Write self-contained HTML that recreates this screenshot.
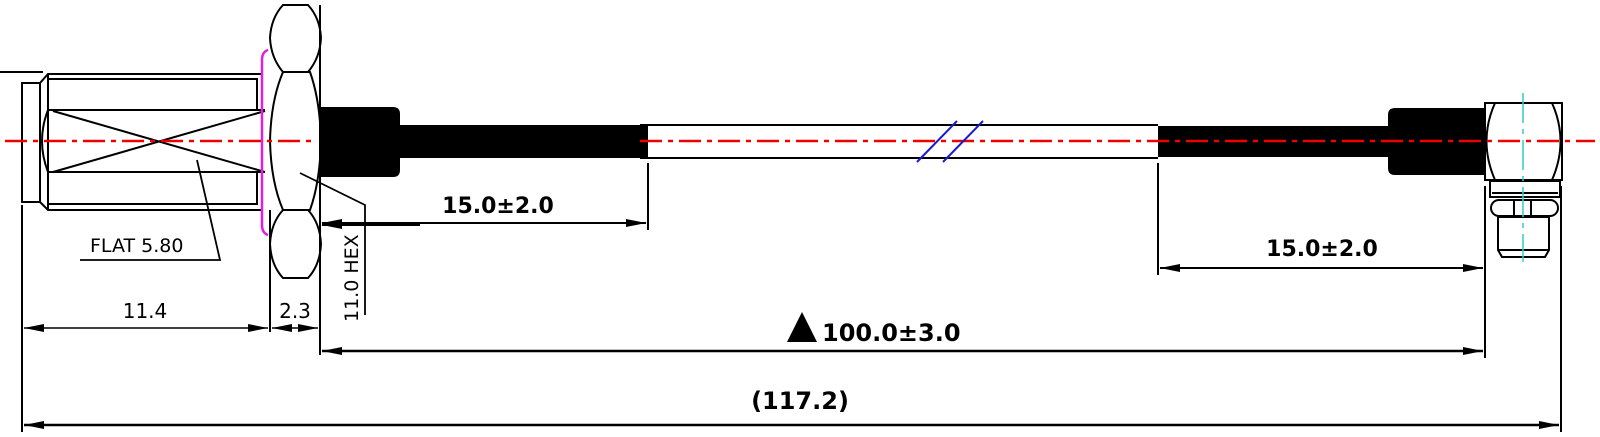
<!DOCTYPE html>
<html><head><meta charset="utf-8"><style>
html,body{margin:0;padding:0;background:#fff;width:1600px;height:437px;overflow:hidden}
svg{display:block}
text{font-family:"DejaVu Sans","Liberation Sans",sans-serif;fill:#000}
</style></head><body>
<svg width="1600" height="437" viewBox="0 0 1600 437" xmlns="http://www.w3.org/2000/svg">
<defs>
<marker id="a" viewBox="0 0 20 8" refX="20" refY="4" markerWidth="20" markerHeight="8" markerUnits="userSpaceOnUse" orient="auto-start-reverse"><path d="M0,0 L20,4 L0,8 z" fill="#000"/></marker>
</defs>
<g fill="none" stroke="#000" stroke-width="2">
<!-- left connector -->
<line x1="0" y1="72" x2="43" y2="72"/>
<rect x="22" y="83" width="18" height="119"/>
<path d="M40,83 L48,74 L262,74 M40,202 L48,210 L262,210"/>
<line x1="48" y1="74" x2="48" y2="210"/>
<line x1="48" y1="79" x2="258" y2="79"/>
<line x1="48" y1="204" x2="258" y2="204"/>
<line x1="257" y1="79" x2="257" y2="110"/>
<line x1="257" y1="173" x2="257" y2="204"/>
<line x1="48" y1="110" x2="265" y2="110"/>
<line x1="48" y1="172" x2="265" y2="172"/>
<path d="M48,110 Q36,141 48,172"/>
<line x1="53" y1="111" x2="265" y2="172"/>
<line x1="53" y1="172" x2="265" y2="111"/>
<!-- hex nut -->
<path d="M283,5 L308,5 Q320,18 321,38 Q320,58 308,72 L283,72 Q271,58 270,38 Q271,18 283,5 z"/>
<path d="M283,72 L310,72 Q320,100 321,141 Q320,182 310,210 L283,210 Q271,182 270,141 Q271,100 283,72 z"/>
<path d="M283,210 L308,210 Q320,223 321,244 Q320,265 308,278 L283,278 Q271,265 270,244 Q271,223 283,210 z"/>
<line x1="270" y1="210" x2="270" y2="332"/>
<line x1="320" y1="5" x2="320" y2="355"/>
<!-- white cable -->
<path d="M640,125 L1158,125 M640,158 L1158,158"/>
<!-- right connector -->
<rect x="1485" y="103" width="77" height="77"/>
<path d="M1495,103 Q1478,141 1495,180 M1552,103 Q1569,141 1552,180"/>
<rect x="1490" y="181" width="70" height="16"/>
<line x1="1492" y1="193" x2="1558" y2="193"/>
<rect x="1491" y="200" width="67" height="16" rx="8"/>
<rect x="1514" y="200" width="17" height="16"/>
<path d="M1498,217 L1549,217 L1549,250 L1545,257 L1502,257 L1498,250 z"/>
<line x1="1498" y1="250" x2="1549" y2="250"/>
<!-- extension lines -->
<line x1="22" y1="205" x2="22" y2="432"/>
<line x1="648" y1="163" x2="648" y2="230"/>
<line x1="1158" y1="163" x2="1158" y2="275"/>
<line x1="1485" y1="186" x2="1485" y2="358"/>
<line x1="1561" y1="186" x2="1561" y2="432"/>
<!-- leaders -->
<polyline points="197,160 220,260 80,260" stroke-width="1.8"/>
<polyline points="300,173 365,205 365,315" stroke-width="1.8"/>
</g>
<!-- black cable parts -->
<path d="M320,107 L393,107 Q400,107 400,114 L400,170 Q400,177 393,177 L320,177 z" fill="#000"/>
<rect x="398" y="125" width="250" height="33" fill="#000"/>
<rect x="1158" y="126" width="240" height="31" fill="#000"/>
<path d="M1485,108 L1395,108 Q1388,108 1388,115 L1388,168 Q1388,175 1395,175 L1485,175 z" fill="#000"/>
<!-- magenta -->
<path d="M268,50 Q262,52 262,60 L262,225 Q262,233 268,235" fill="none" stroke="#e020e0" stroke-width="2.5"/>
<!-- center lines -->
<line x1="5" y1="141" x2="315" y2="141" stroke="#e00" stroke-width="2.5" stroke-dasharray="22,6,5,6"/>
<line x1="640" y1="141" x2="1595" y2="141" stroke="#e00" stroke-width="2.5" stroke-dasharray="22,6,5,6"/>
<line x1="1523" y1="93" x2="1523" y2="262" stroke="#3cc" stroke-width="1.5" stroke-dasharray="30,6,5,6"/>
<path d="M917,162 L957,121 M943,162 L983,121" stroke="#1a1ad0" stroke-width="2"/>
<!-- dimension arrows -->
<g stroke="#000" stroke-width="2" fill="none">
<line x1="24" y1="328" x2="268" y2="328" marker-start="url(#a)" marker-end="url(#a)" stroke-width="1.5"/>
<line x1="272" y1="328" x2="318" y2="328" marker-start="url(#a)" marker-end="url(#a)" stroke-width="1.5"/>
<line x1="420" y1="225" x2="322" y2="225" marker-end="url(#a)"/>
<line x1="322" y1="223" x2="646" y2="223" marker-start="url(#a)" marker-end="url(#a)"/>
<line x1="1160" y1="268" x2="1483" y2="268" marker-start="url(#a)" marker-end="url(#a)"/>
<line x1="322" y1="351" x2="1483" y2="351" marker-start="url(#a)" marker-end="url(#a)" stroke-width="2.5"/>
<line x1="24" y1="425" x2="1559" y2="425" marker-start="url(#a)" marker-end="url(#a)" stroke-width="2.5"/>
</g>
<!-- text -->
<text x="90" y="252" font-size="19">FLAT  5.80</text>
<text x="145" y="318" font-size="20" text-anchor="middle">11.4</text>
<text x="295" y="318" font-size="20" text-anchor="middle">2.3</text>
<text transform="translate(358,322) rotate(-90)" font-size="19">11.0 HEX</text>
<text x="498" y="213" font-size="22" font-weight="bold" text-anchor="middle">15.0±2.0</text>
<text x="1322" y="256" font-size="22" font-weight="bold" text-anchor="middle">15.0±2.0</text>
<path d="M787,342 L802,312 L817,342 z" fill="#000"/>
<text x="822" y="341" font-size="24" font-weight="bold">100.0±3.0</text>
<text x="800" y="409" font-size="24" font-weight="bold" text-anchor="middle">(117.2)</text>
</svg>
</body></html>
